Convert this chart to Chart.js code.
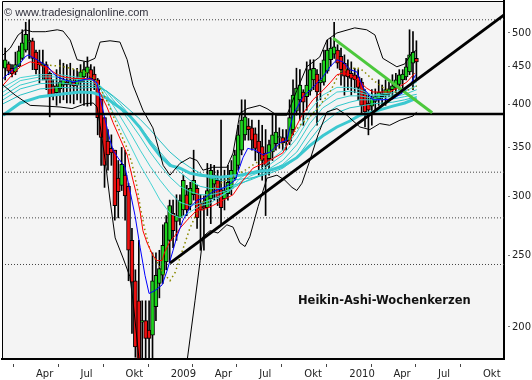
<!DOCTYPE html>
<html>
<head>
<meta charset="utf-8">
<script src="https://cdn.jsdelivr.net/npm/chart.js@4.4.1/dist/chart.umd.min.js"></script>
<style>
html, body { margin: 0; padding: 0; background: #fff; }
#wrap { width: 532px; height: 380px; }
</style>
</head>
<body>
<div id="wrap"><canvas id="grafico" width="532" height="380"></canvas></div>
<script>
// Heikin-Ashi Wochenkerzen, erste Kerze = Woche vom 29.01.2008
const haOpen = [448,454,448,443,451,462,474,486,488,471,457,451,453,441,424,415,420,425,429,426,
  429,425,429,436,441,446,440,432,407,384,357,349,347,318,311,321,310,262,231,217,
  203,204,198,195,213,229,235,245,262,285,278,281,288,302,293,302,308,294,291,290,
  298,312,316,307,298,303,308,318,331,347,364,374,372,365,357,351,344,338,345,354,
  361,361,358,357,370,392,406,416,410,417,432,440,428,429,444,460,468,474,465,455,
  446,441,439,436,429,414,402,398,404,407,410,412,414,419,421,426,432,436,443,455,462];
const haClose = [460,444,440,453,473,485,498,489,462,446,453,454,432,410,413,424,429,432,426,432,
  424,434,443,446,450,434,432,384,361,331,342,344,292,305,332,301,254,230,188,181,
  204,193,193,231,235,240,258,277,292,270,283,297,316,288,308,316,281,288,290,306,
  326,321,299,290,306,314,326,342,364,381,385,370,358,349,344,336,331,353,364,367,
  362,355,356,384,412,421,425,403,425,446,448,416,432,460,474,477,479,455,446,437,
  436,434,432,422,399,391,393,408,410,416,413,419,420,424,432,439,440,450,467,471,457];
const haHigh = [477,457,453,471,480,505,517,521,492,474,474,474,457,443,432,446,460,455,453,455,
  446,448,453,457,464,453,450,434,407,384,370,364,347,336,350,347,313,272,239,262,
  217,217,217,252,252,254,275,283,297,297,302,302,321,311,314,347,311,302,301,333,
  332,331,326,381,326,331,336,347,375,406,406,383,381,372,381,375,370,358,388,387,
  372,370,370,406,432,448,446,419,457,460,460,446,455,474,489,492,517,482,477,467,
  460,457,448,446,434,419,412,419,420,432,425,432,429,439,441,446,446,462,505,502,488];
const haLow = [432,439,436,439,450,460,471,462,446,440,428,432,419,385,406,399,402,406,402,402,
  401,406,402,399,398,399,419,364,331,309,326,331,279,281,306,279,231,196,182,175,
  174,174,174,174,204,219,229,239,245,256,262,275,283,283,288,297,272,254,254,283,
  276,297,292,276,288,297,302,316,326,342,358,358,347,336,321,316,283,321,336,347,
  349,347,347,353,364,387,381,375,393,412,419,375,406,425,441,451,462,448,425,412,
  419,412,415,406,387,373,364,375,393,399,399,399,410,410,415,419,420,432,439,419,432];

// Bollinger-Bänder (Wochenindex / Kurs)
const bbUpperWk = [-0.6,1.5,3.8,5.8,7.9,11.7,15.2,16.9,19,21,23.9,26.2,27.7,30.6,33.5,35.6,37.3,40.2,43.1,46.1,
  48.1,51,53.9,56,57.7,60.6,64.7,66.5,68.5,70.6,74.3,76.4,79.3,82.2,85.1,88,91.8,93.9,96.8,102,
  105.5,107.9,110.2,114.3,116.6,118.7,120.1];
const bbUpper = [467,477,497,505,502,502,505,503,489,460,457,462,486,488,486,460,425,393,372,331,
  321,333,339,336,326,329,329,344,389,395,399,395,387,387,418,450,464,489,500,508,
  505,497,462,450,454,470,474];
const bbLowerWk = [-0.6,2.9,7.3,12.2,16,19.5,23.3,25.7,26.8,27.7,29.2,30.6,32.1,34.4,36.4,37.3,38.2,39.1,40.8,45.2,
  49.6,51.9,53.1,55.4,56.9,57.7,59.8,62.1,64.7,66.5,68.5,70,71.4,73.8,76.4,79.3,81.6,83.7,85.1,86.6,
  88.9,91.3,93.9,96.8,99.7,103.5,106.4,109.3,112.2,115.2,119,120.1];
const bbLower = [425,412,399,398,397,395,401,402,397,375,336,297,264,248,234,217,198,180,150,124,
  136,164,180,217,246,265,270,268,275,273,260,257,265,291,318,321,316,309,306,313,
  336,364,391,395,387,373,370,377,375,381,386,391];

// kurzer (blau) und mittlerer (rot) Durchschnitt, olivfarben gepunktet
const blueWk = [-0.6,2.3,4.4,5.8,6.7,9.3,12.5,13.7,15.2,17.5,19.8,22.7,24.8,26.8,27.7,29.2,30.6,31.5,32.9,35,
  36.4,37.9,39.4,40.8,42,43.7,45.8,47.2,49,50.1,51.9,53.9,56,58.3,60.6,64.1,67.1,69.4,70.8,72.9,
  75.2,77.3,80.2,82.2,84,86.9,89.8,92.7,94.8,96.8,98.5,100.6,102.6,104.4,105.5,107.3,110.2,113.1,116,118.1,119.8];
const blueMa = [434,446,455,464,467,460,450,443,436,432,429,432,434,428,409,381,358,347,339,329,
  306,283,256,235,222,224,228,238,254,265,279,290,297,299,305,309,316,339,349,347,
  342,345,355,358,387,410,422,436,450,460,457,446,443,422,416,406,406,407,415,425,439];
const redWk = [-0.6,1.5,4.4,7.3,9.3,13.1,15.2,16.9,19.8,22.7,25.7,27.7,29.7,31.5,33.5,35.6,36.4,37.3,38.5,39.4,
  40.2,41.4,43.1,44.3,45.8,46.6,48.1,49.6,51,53.1,56,57.7,60.6,63.6,66.5,69.4,72.3,75.2,78.1,81,
  83.1,85.1,86.9,89.8,92.7,94.8,96.8,98.5,100.6,103.5,105.5,107.3,112.2,114.3,117.2,119.5];
const redMa = [425,436,450,457,455,446,439,436,434,434,432,415,397,378,360,342,329,316,300,286,
  270,260,250,246,246,253,261,266,272,279,288,288,292,297,302,316,328,333,338,344,
  358,375,389,406,418,428,439,441,439,429,421,416,416,421,429,441];
const oliveWk = [13.1,16,19,23.3,26.2,27.7,30,32.9,35.6,37,38.5,39.4,40.8,42.3,44.3,46.1,48.1,49.6,51,52.5,
  53.9,56,58.9,61.8,65.6,70,74.3,78.7,83.1,86,88.9,91.8,94.8,97.7,100.6,103.5,105.5,107.3,110.2,113.1,
  116,119,120.1];
const oliveMa = [452,451,448,443,434,421,402,373,349,333,309,291,270,254,245,237,231,237,248,260,
  272,286,302,311,318,326,336,349,361,375,385,399,416,443,448,448,440,432,422,416,
  416,421,424];

// Band aus gleitenden Durchschnitten (türkis), t1 = schnellster
const ribbonWk = [-0.6,4.4,10.2,16,21.9,25.7,27.7,29.7,31.5,33.5,36.4,39.4,42.3,45.2,48.1,51,53.9,56.9,59.8,62.7,
  65.6,68.5,71.4,74.3,77.3,81,85.1,88.9,92.7,96.8,100.6,103.5,107.3,113.1,116.6,120.1];
const ribbonT1 = [422,435,439,439,435,432,421,406,390,375,353,331,314,297,285,281,286,292,294,300,
  306,318,324,326,336,347,367,393,412,422,422,419,412,415,421,429];
const ribbonT2 = [416,431,436,436,432,431,424,412,399,386,367,347,330,316,304,295,292,294,297,301,
  306,314,320,324,332,342,360,385,403,416,417,415,411,412,417,424];
const ribbonT3 = [411,425,432,432,429,428,424,416,406,396,379,362,345,331,319,310,305,302,302,304,
  307,312,317,321,328,336,353,377,396,407,411,411,408,410,413,419];
const ribbonT4 = [406,420,427,428,425,425,422,417,410,401,387,373,358,345,333,324,316,310,308,308,
  310,313,316,320,325,332,345,367,386,398,403,406,406,407,410,413];
const ribbonT5 = [401,412,420,422,421,422,421,417,411,404,393,382,370,357,345,336,329,323,318,316,
  316,317,318,320,323,328,339,358,377,390,396,398,401,403,406,410];
const ribbonSlow = [387,402,410,413,416,415,412,408,402,396,386,372,355,341,331,328,323,321,320,319,
  320,321,323,325,326,330,339,352,363,373,380,387,391,398,402,408];

// Trendlinien und Marken
const trendBlackWk = [48.1, 145.6];
const trendBlack = [244, 529];
const trendGreenWk = [95.7, 124.6];
const trendGreen = [492, 390];
const supportLevel = 388.5;
const dottedLevels = [521, 324, 281, 243];

const tickDates = ['2008-04-01','2008-07-01','2008-10-01','2009-01-01','2009-04-01','2009-07-01',
  '2009-10-01','2010-01-01','2010-04-01','2010-07-01','2010-10-01'];
const tickLabels = ['Apr','Jul','Okt','2009','Apr','Jul','Okt','2010','Apr','Jul','Okt'];
const yTicks = [200, 250, 300, 350, 400, 450, 500];

const xMin = -0.92, xMax = 145.56;
const firstWeek = Date.UTC(2008, 0, 29);
function weekOf(iso) {
    const p = iso.split('-');
    return (Date.UTC(+p[0], +p[1] - 1, +p[2]) - firstWeek) / (7 * 86400000);
}
const tickWeeks = tickDates.map(weekOf);

function pts(xs, ys) {
    return xs.map((x, i) => ({ x: x, y: ys[i] }));
}
function lineSet(data, color, width, order, extra) {
    return Object.assign({
        type: 'line', data: data, borderColor: color, borderWidth: width,
        pointRadius: 0, fill: false, tension: 0, order: order
    }, extra || {});
}

const wicks = haOpen.map((o, i) => ({ x: i, y: [haLow[i], haHigh[i]] }));
const bodies = haOpen.map((o, i) => ({ x: i, y: [o, haClose[i]] }));
const bodyColors = haOpen.map((o, i) => haClose[i] >= o ? '#1ed21e' : '#ee1010');

const datasets = [
    lineSet(pts(trendBlackWk, trendBlack), '#000', 3, 1),
    lineSet(pts(trendGreenWk, trendGreen), '#4cc83c', 3, 2),
    lineSet(pts([xMin, xMax], [supportLevel, supportLevel]), '#000', 2.5, 3),
    lineSet(pts(blueWk, blueMa), '#0000ff', 1, 9),
    lineSet(pts(redWk, redMa), '#ff0000', 1, 10),
    lineSet(pts(oliveWk, oliveMa), '#8a8a00', 1.5, 11, { borderDash: [1.5, 3] }),
    lineSet(pts(bbUpperWk, bbUpper), '#000', 1, 12),
    lineSet(pts(bbLowerWk, bbLower), '#000', 1, 12),
    lineSet(pts(ribbonWk, ribbonSlow), '#3cc8d0', 3, 14),
    lineSet(pts(ribbonWk, ribbonT5), '#28c0c4', 1, 15),
    lineSet(pts(ribbonWk, ribbonT4), '#30c8cc', 1, 15),
    lineSet(pts(ribbonWk, ribbonT3), '#38cccc', 1, 15),
    lineSet(pts(ribbonWk, ribbonT2), '#40d0d0', 1, 15),
    lineSet(pts(ribbonWk, ribbonT1), '#48d4d4', 1, 15),
    {
        type: 'bar', data: bodies, backgroundColor: bodyColors, borderColor: '#000',
        borderWidth: 1, borderSkipped: false, barThickness: 4, grouped: false, order: 19
    },
    {
        type: 'bar', data: wicks, backgroundColor: '#000', borderWidth: 0,
        barThickness: 1, grouped: false, order: 20
    }
];
dottedLevels.forEach(v => {
    datasets.push(lineSet(pts([xMin, xMax], [v, v]), '#444', 1, 30, { borderDash: [1, 2] }));
});

const rahmen = {
    id: 'rahmen',
    beforeDraw(chart) {
        const { ctx, chartArea: a } = chart;
        ctx.save();
        ctx.fillStyle = '#fff';
        ctx.fillRect(0, 0, chart.width, chart.height);
        ctx.fillStyle = '#f4f4f4';
        ctx.fillRect(a.left, a.top, a.right - a.left, a.bottom - a.top);
        ctx.restore();
    },
    afterDraw(chart) {
        const { ctx, chartArea: a } = chart;
        ctx.save();
        ctx.strokeStyle = '#000';
        ctx.lineWidth = 1;
        ctx.beginPath();
        ctx.moveTo(a.left + 0.5, a.bottom);
        ctx.lineTo(a.left + 0.5, a.top + 0.5);
        ctx.lineTo(a.right, a.top + 0.5);
        ctx.stroke();
        ctx.fillStyle = '#30303c';
        ctx.font = '11px "Liberation Sans"';
        ctx.textBaseline = 'alphabetic';
        ctx.fillText('\u00a9 www.tradesignalonline.com', 4, 15.5);
        ctx.fillStyle = '#111';
        ctx.font = 'bold 11.5px "DejaVu Sans"';
        ctx.fillText('Heikin-Ashi-Wochenkerzen', 298, 304);
        ctx.restore();
    }
};

Chart.defaults.font.family = '"DejaVu Sans"';
Chart.defaults.font.size = 10;

new Chart(document.getElementById('grafico'), {
    type: 'bar',
    data: { datasets: datasets },
    options: {
        responsive: false,
        animation: false,
        devicePixelRatio: 1,
        layout: { padding: { left: 2, top: 1, right: 0, bottom: 0 } },
        plugins: { legend: { display: false }, tooltip: { enabled: false } },
        scales: {
            x: {
                type: 'linear', min: xMin, max: xMax, offset: false,
                grid: { drawOnChartArea: false, tickLength: 8, tickColor: '#444', tickBorderDash: [0, 4, 4] },
                border: { color: '#000', width: 2 },
                ticks: {
                    autoSkip: false, maxRotation: 0, align: 'start', padding: 1, color: '#222',
                    callback: (v, i) => tickLabels[i]
                },
                afterBuildTicks: s => { s.ticks = tickWeeks.map(v => ({ value: v })); },
                afterFit: s => { s.height = 21; s.paddingLeft = 0; s.paddingRight = 0; }
            },
            y: {
                type: 'logarithmic', position: 'right', min: 181, max: 552.4,
                grid: { drawOnChartArea: false, tickLength: 6, tickColor: '#777', tickBorderDash: [0, 3, 3] },
                border: { color: '#000', width: 2 },
                ticks: { padding: 2, color: '#222', callback: v => String(v) },
                afterBuildTicks: s => { s.ticks = yTicks.map(v => ({ value: v })); },
                afterFit: s => { s.width = 28; s.paddingTop = 0; s.paddingBottom = 0; }
            }
        }
    },
    plugins: [rahmen]
});
</script>
</body>
</html>
